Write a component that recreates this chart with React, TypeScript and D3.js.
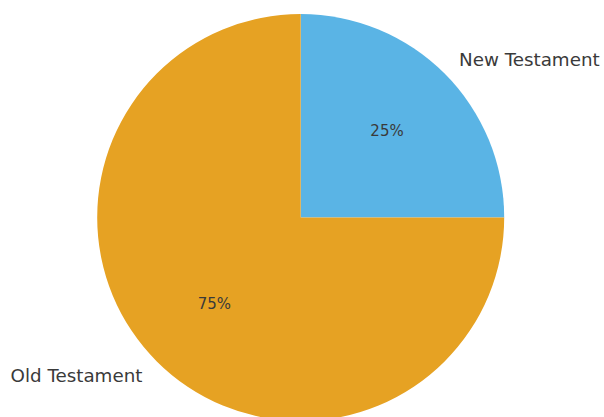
import React from "react";
import * as d3 from "d3";

const categories = ["New Testament", "Old Testament"];
const values = [25, 75];
const colors = ["#5AB4E5", "#E6A223"];

const W = 604;
const H = 417;
const CX = 300.7;
const CY = 217.5;
const R = 203.5;

export default function App() {
  const data = categories.map((c, i) => ({ label: c, value: values[i], color: colors[i] }));
  const pie = d3
    .pie<{ label: string; value: number; color: string }>()
    .sort(null)
    .value((d) => d.value)
    .startAngle(0)
    .endAngle(2 * Math.PI);
  const arcs = pie(data);
  const arc = d3.arc<d3.PieArcDatum<any>>().innerRadius(0).outerRadius(R);
  const total = d3.sum(values);

  return (
    <svg
      width={W}
      height={H}
      style={{ position: "absolute", left: 0, top: 0, display: "block", background: "#fff" }}
      fontFamily="DejaVu Sans, sans-serif"
    >
      <g transform={`translate(${CX},${CY})`}>
        {arcs.map((a, i) => (
          <path key={i} d={arc(a) || ""} fill={a.data.color} />
        ))}
        {arcs.map((a, i) => {
          const mid = (a.startAngle + a.endAngle) / 2;
          const lx = Math.sin(mid) * R * 1.1;
          const ly = -Math.cos(mid) * R * 1.1;
          const px = Math.sin(mid) * R * 0.6;
          const py = -Math.cos(mid) * R * 0.6;
          return (
            <g key={"t" + i}>
              <text
                x={lx}
                y={ly}
                textAnchor={lx > 0 ? "start" : "end"}
                dominantBaseline="central"
                fontSize={18.3}
                fill="#3a3a3a"
              >
                {a.data.label}
              </text>
              <text
                x={px}
                y={py}
                textAnchor="middle"
                dominantBaseline="central"
                fontSize={15}
                fill="#3a3a3a"
              >
                {`${Math.round((a.data.value / total) * 100)}%`}
              </text>
            </g>
          );
        })}
      </g>
    </svg>
  );
}
